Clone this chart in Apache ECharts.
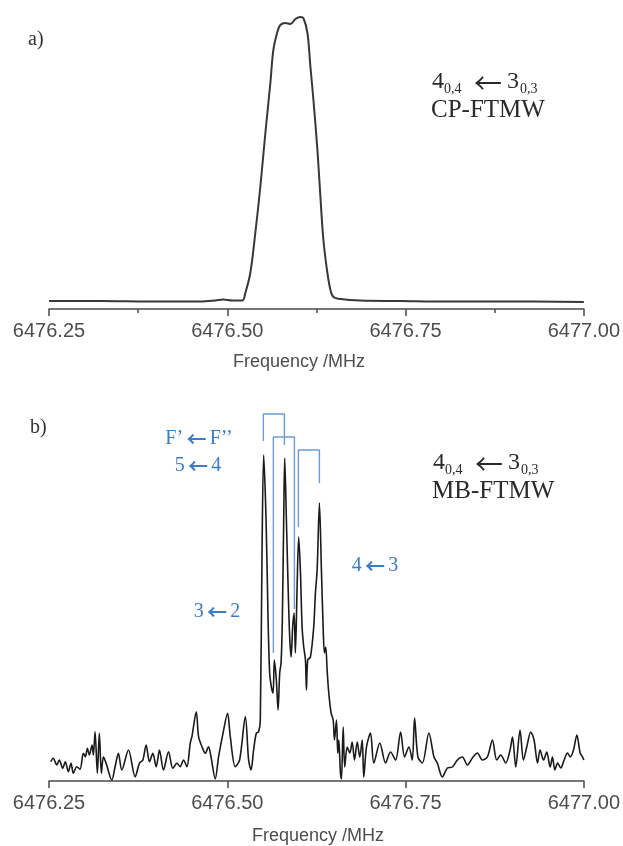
<!DOCTYPE html>
<html>
<head>
<meta charset="utf-8">
<script src="https://cdn.jsdelivr.net/npm/echarts@6/dist/echarts.min.js"></script>
<style>
html,body{margin:0;padding:0;background:#fff;}
#chart{width:623px;height:846px;}
</style>
</head>
<body>
<div id="chart"></div>
<script>
// ---------- DATA ----------
var xTicks = [6476.25, 6476.50, 6476.75, 6477.00];

// a) CP-FTMW spectrum
var topFreq = [6476.2500, 6476.3216, 6476.3919, 6476.4621, 6476.4831, 6476.4944, 6476.5070, 6476.5211,
  6476.5253, 6476.5323, 6476.5393, 6476.5463, 6476.5534, 6476.5604, 6476.5646, 6476.5702, 6476.5744,
  6476.5815, 6476.5885, 6476.5955, 6476.6025, 6476.6067, 6476.6124, 6476.6166, 6476.6208, 6476.6264,
  6476.6306, 6476.6348, 6476.6404, 6476.6447, 6476.6489, 6476.6587, 6476.6868, 6476.7430, 6476.8132,
  6476.8834, 6477.0000];
var topIntensity = [8, 8, 7.5, 7.5, 8.5, 9.5, 8.5, 8.5,
  16, 36, 76, 122, 176, 226, 259, 277, 284,
  286, 285, 290, 292, 291, 276, 242, 209, 159,
  112, 69, 36, 19, 12, 10, 8.5, 8, 7.5,
  7.5, 7];

// b) MB-FTMW spectrum
var botFreq = [6476.2524, 6476.2560, 6476.2608, 6476.2645, 6476.2692, 6476.2729, 6476.2771, 6476.2809,
  6476.2841, 6476.2889, 6476.2935, 6476.2982, 6476.3010, 6476.3038, 6476.3066, 6476.3104, 6476.3122,
  6476.3146, 6476.3178, 6476.3206, 6476.3235, 6476.3263, 6476.3301, 6476.3381, 6476.3427, 6476.3473,
  6476.3521, 6476.3614, 6476.3708, 6476.3768, 6476.3816, 6476.3862, 6476.3909, 6476.3956, 6476.4003,
  6476.4049, 6476.4105, 6476.4176, 6476.4237, 6476.4294, 6476.4340, 6476.4386, 6476.4434, 6476.4480,
  6476.4504, 6476.4565, 6476.4597, 6476.4645, 6476.4691, 6476.4737, 6476.4771, 6476.4831, 6476.4878,
  6476.4940, 6476.5004, 6476.5042, 6476.5112, 6476.5173, 6476.5253, 6476.5299, 6476.5333, 6476.5369,
  6476.5407, 6476.5440, 6476.5463, 6476.5487, 6476.5510, 6476.5544, 6476.5572, 6476.5594, 6476.5618,
  6476.5642, 6476.5660, 6476.5688, 6476.5712, 6476.5735, 6476.5754, 6476.5772, 6476.5791, 6476.5805,
  6476.5829, 6476.5853, 6476.5875, 6476.5895, 6476.5917, 6476.5937, 6476.5955, 6476.5979, 6476.6001,
  6476.6025, 6476.6049, 6476.6072, 6476.6096, 6476.6110, 6476.6128, 6476.6166, 6476.6212, 6476.6236,
  6476.6260, 6476.6292, 6476.6320, 6476.6344, 6476.6362, 6476.6381, 6476.6400, 6476.6423, 6476.6456,
  6476.6485, 6476.6503, 6476.6531, 6476.6549, 6476.6563, 6476.6587, 6476.6601, 6476.6625, 6476.6647,
  6476.6681, 6476.6718, 6476.6751, 6476.6784, 6476.6822, 6476.6858, 6476.6892, 6476.6914, 6476.6952,
  6476.7008, 6476.7055, 6476.7139, 6476.7219, 6476.7289, 6476.7360, 6476.7430, 6476.7486, 6476.7546,
  6476.7594, 6476.7626, 6476.7673, 6476.7735, 6476.7827, 6476.7898, 6476.7945, 6476.8015, 6476.8086,
  6476.8156, 6476.8226, 6476.8296, 6476.8367, 6476.8437, 6476.8507, 6476.8577, 6476.8647, 6476.8718,
  6476.8778, 6476.8834, 6476.8905, 6476.8965, 6476.8999, 6476.9045, 6476.9105, 6476.9153, 6476.9199,
  6476.9256, 6476.9302, 6476.9350, 6476.9386, 6476.9434, 6476.9480, 6476.9527, 6476.9560, 6476.9593,
  6476.9631, 6476.9677, 6476.9723, 6476.9771, 6476.9808, 6476.9855, 6476.9902, 6476.9948, 6476.9982,
  6477.0000];
var botIntensity = [19.3, 22.7, 16, 21, 12.7, 19.3, 9.3, 17.7,
  7.7, 14.3, 11.7, 27.7, 24.3, 32.7, 26, 36, 26,
  49.3, 7.7, 47.7, 7.7, 24.3, 17.7, 1, 14.3, 27.7,
  11, 31, 4.3, 17.7, 21, 36, 19.3, 27.7, 14.3,
  31, 11, 29.3, 12.7, 17.7, 14.3, 21, 14.3, 37.7,
  44.3, 69.3, 44.3, 34.3, 27.7, 34.3, 24.3, 2, 24.3,
  47.7, 67.7, 44.3, 14.3, 21, 64.3, 21, 11, 31,
  47.7, 49.3, 61, 228, 326, 261, 161, 108, 94,
  88, 121, 101, 71, 108, 118, 161, 261, 323,
  261, 194, 144, 124, 154, 168, 128, 194, 244,
  211, 154, 134, 121, 91, 121, 124, 154, 188,
  211, 278, 211, 154, 128, 134, 111, 88, 68,
  61, 41, 61, 28, 41, 8, 2, 54, 14,
  34, 28, 39, 21, 39, 24, 41, 4, 34,
  48, 18, 38, 18, 29, 21, 49, 24, 34,
  21, 63, 24, 18, 48, 24, 18, 4, 13,
  14, 21, 24, 16, 23, 28, 21, 24, 41,
  21, 26, 18, 31, 44, 14, 51, 21, 34,
  49, 41, 18, 31, 21, 29, 14, 24, 11,
  18, 13, 21, 28, 24, 31, 46, 28, 24,
  21];

// hyperfine component brackets (b)
var bracketLeftFreq  = [6476.5506, 6476.5646, 6476.5997];
var bracketRightFreq = [6476.5801, 6476.5941, 6476.6292];
var bracketTop       = [367, 344, 331];
var bracketLeftEnd   = [340, 128, 254];
var bracketRightEnd  = [336, 172, 298];

// ---------- CHART ----------
function pairs(xs, ys) { return xs.map(function (x, i) { return [x, ys[i]]; }); }

var axisColor = '#4a4a4a';
var labelColor = '#4d4d4d';
var blue = '#3b7cc6';
var bracketColor = '#6d9ad6';
var serif = '"Liberation Serif", "Times New Roman", serif';
var sans = '"Liberation Sans", Arial, sans-serif';

function xAxisCfg(gridIndex, minor) {
  return {
    type: 'value', gridIndex: gridIndex,
    min: xTicks[0], max: xTicks[xTicks.length - 1], interval: 0.25,
    axisLine: { show: true, onZero: false, lineStyle: { color: axisColor, width: 1.5 } },
    axisTick: { show: true, length: 7, lineStyle: { color: axisColor, width: 1.5 } },
    minorTick: { show: minor, splitNumber: 2, length: 4, lineStyle: { color: axisColor, width: 1.5 } },
    splitLine: { show: false },
    minorSplitLine: { show: false },
    axisLabel: {
      margin: 12, color: labelColor, fontSize: 20, fontFamily: sans,
      formatter: function (v) { return v.toFixed(2); }
    }
  };
}

var series = [
  {
    type: 'line', xAxisIndex: 0, yAxisIndex: 0, data: pairs(topFreq, topIntensity),
    showSymbol: false, smooth: 0.35, lineStyle: { color: '#383838', width: 2 }, silent: true
  },
  {
    type: 'line', xAxisIndex: 1, yAxisIndex: 1, data: pairs(botFreq, botIntensity),
    showSymbol: false, smooth: 0.3, lineStyle: { color: '#1a1a1a', width: 1.6 }, silent: true
  }
];
for (var b = 0; b < bracketLeftFreq.length; b++) {
  series.push({
    type: 'line', xAxisIndex: 1, yAxisIndex: 1, showSymbol: false, silent: true, z: 3,
    lineStyle: { color: bracketColor, width: 1.4 },
    data: [[bracketLeftFreq[b], bracketLeftEnd[b]], [bracketLeftFreq[b], bracketTop[b]],
           [bracketRightFreq[b], bracketTop[b]], [bracketRightFreq[b], bracketRightEnd[b]]]
  });
}

function txt(x, y, text, font, fill, align) {
  return { type: 'text', x: x, y: y, silent: true, z: 10,
    style: { text: text, font: font, fill: fill, align: align || 'left', verticalAlign: 'middle' } };
}
var blueRich = {
  d: { font: '20px ' + serif, fill: blue },
  a: { font: 'bold 20px "Noto Sans CJK SC", "DejaVu Sans", sans-serif', fill: blue }
};
function blueLabel(x, y, a, bb) {
  return { type: 'text', x: x, y: y, silent: true, z: 10,
    style: {
      text: '{d|' + a + '} {a|←} {d|' + bb + '}', align: 'center', verticalAlign: 'middle',
      rich: blueRich
    } };
}
function transition(x, y, name) {
  var f = '24px ' + serif, s = '14px ' + serif, c = '#2a2a2a';
  return [
    txt(x, y, '4', f, c), txt(x + 12, y + 7, '0,4', s, c),
    txt(x + 42, y + 1, '←', '28px "Noto Sans CJK SC", sans-serif', c),
    txt(x + 75, y, '3', f, c), txt(x + 88, y + 7, '0,3', s, c),
    txt(x - 1, y + 28, name, '25px ' + serif, c)
  ];
}

var graphics = [
  txt(28, 40, 'a)', '20px ' + serif, '#333'),
  txt(30, 428, 'b)', '20px ' + serif, '#333'),
  txt(299, 362, 'Frequency /MHz', '18px ' + sans, labelColor, 'center'),
  txt(318, 836, 'Frequency /MHz', '18px ' + sans, labelColor, 'center'),
  { type: 'text', x: 199, y: 439, silent: true, z: 10,
    style: { text: '{d|F’} {a|←} {d|F’’}', align: 'center', verticalAlign: 'middle', rich: blueRich } },
  blueLabel(198, 466, '5', '4'),
  blueLabel(217, 612, '3', '2'),
  blueLabel(375, 566, '4', '3')
].concat(transition(432, 82, 'CP-FTMW')).concat(transition(433, 463, 'MB-FTMW'));

var chart = echarts.init(document.getElementById('chart'), null, { renderer: 'canvas' });
chart.setOption({
  animation: false,
  backgroundColor: '#ffffff',
  grid: [
    { left: 49, right: 39, top: 9, height: 300 },
    { left: 49, right: 39, top: 411, height: 370 }
  ],
  xAxis: [xAxisCfg(0, true), xAxisCfg(1, false)],
  yAxis: [
    { type: 'value', gridIndex: 0, min: 0, max: 300, show: false },
    { type: 'value', gridIndex: 1, min: 0, max: 370, show: false }
  ],
  series: series,
  graphic: graphics
});
</script>
</body>
</html>
